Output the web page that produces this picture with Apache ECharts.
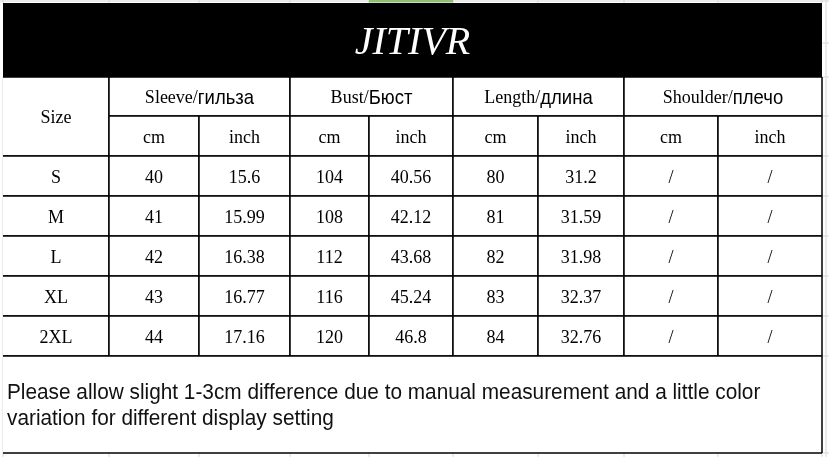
<!DOCTYPE html>
<html>
<head>
<meta charset="utf-8">
<script src="https://cdn.jsdelivr.net/npm/echarts@6/dist/echarts.min.js"></script>
<style>
  html, body { margin: 0; padding: 0; background: #fff; }
  #chart { width: 829px; height: 457px; }
</style>
</head>
<body>
<div id="chart"></div>
<script>
// --- data ---
const title = "JITIVR";
const sizeLabel = "Size";
const sizes = ["S", "M", "L", "XL", "2XL"];
const groupEn = ["Sleeve/", "Bust/", "Length/", "Shoulder/"];
const groupRu = ["гильза", "Бюст", "длина", "плечо"];
const units = ["cm", "inch"];
const sleeveCm = ["40", "41", "42", "43", "44"];
const sleeveInch = ["15.6", "15.99", "16.38", "16.77", "17.16"];
const bustCm = ["104", "108", "112", "116", "120"];
const bustInch = ["40.56", "42.12", "43.68", "45.24", "46.8"];
const lengthCm = ["80", "81", "82", "83", "84"];
const lengthInch = ["31.2", "31.59", "31.98", "32.37", "32.76"];
const shoulderCm = ["/", "/", "/", "/", "/"];
const shoulderInch = ["/", "/", "/", "/", "/"];
const noteLines = [
  "Please allow slight 1-3cm difference due to manual measurement and a little color",
  "variation for different display setting"
];

// --- layout (pixel edges of the sheet) ---
const colX = [3, 109, 199, 290, 369, 453, 538, 624, 718, 822];
const rowY = [3, 77, 116, 156, 196, 236, 276, 316, 356, 453];

const SERIF = "'Liberation Serif', 'Times New Roman', serif";
const SANS = "'Liberation Sans', Arial, sans-serif";

// build cell list
const cells = [];
cells.push({ c0: 0, c1: 9, r0: 0, r1: 1, kind: "title", text: title });
cells.push({ c0: 0, c1: 1, r0: 1, r1: 3, kind: "cell", text: sizeLabel });
groupEn.forEach((g, i) => {
  cells.push({ c0: 1 + 2 * i, c1: 3 + 2 * i, r0: 1, r1: 2, kind: "head", en: g, ru: groupRu[i] });
  units.forEach((u, k) => {
    cells.push({ c0: 1 + 2 * i + k, c1: 2 + 2 * i + k, r0: 2, r1: 3, kind: "cell", text: u });
  });
});
const cols = [sleeveCm, sleeveInch, bustCm, bustInch, lengthCm, lengthInch, shoulderCm, shoulderInch];
sizes.forEach((s, r) => {
  cells.push({ c0: 0, c1: 1, r0: 3 + r, r1: 4 + r, kind: "cell", text: s });
  cols.forEach((arr, c) => {
    cells.push({ c0: 1 + c, c1: 2 + c, r0: 3 + r, r1: 4 + r, kind: "cell", text: arr[r] });
  });
});
cells.push({ c0: 0, c1: 9, r0: 8, r1: 9, kind: "note" });

const cellData = cells.map((c, i) => [colX[c.c0], rowY[c.r0], colX[c.c1], rowY[c.r1], i]);

// faint spreadsheet gridlines around the table
const GRAY = "#d6d6d6";
const decoData = [];
colX.forEach(x => decoData.push([x, 0, x, 3, 0]));
colX.forEach(x => decoData.push([x, 453, x, 457, 0]));
decoData.push([0, 1, 829, 1, 0]);
decoData.push([369, 1, 453, 1, 1]);
[43].concat(rowY.slice(1)).forEach(y => decoData.push([822, y, 829, y, 0]));
decoData.push([826, 0, 826, 457, 0]);
decoData.push([3, 77, 3, 453, 0]);

function line(x1, y1, x2, y2, color, w) {
  return { type: "line", shape: { x1, y1, x2, y2 }, style: { stroke: color, lineWidth: w } };
}

function renderCell(params, api) {
  const p0 = api.coord([api.value(0), api.value(1)]);
  const p1 = api.coord([api.value(2), api.value(3)]);
  const cell = cells[api.value(4)];
  const x0 = p0[0], y0 = p0[1], x1 = p1[0], y1 = p1[1];
  const cx = (x0 + x1) / 2, cy = (y0 + y1) / 2;
  const children = [];
  children.push({
    type: "rect",
    shape: { x: x0, y: y0, width: x1 - x0, height: y1 - y0 },
    style: { fill: cell.kind === "title" ? "#000" : "#fff" }
  });
  if (cell.kind !== "title") {
    children.push(line(x0, y0, x1, y0, "#000", 1.5));
    children.push(line(x0, y1, x1, y1, "#000", 1.5));
    children.push(line(x1, y0, x1, y1, "#000", 1.5));
    if (cell.c0 > 0) children.push(line(x0, y0, x0, y1, "#000", 1.5));
  }
  if (cell.kind === "title") {
    children.push({
      type: "text", x: cx, y: cy + 3.5,
      style: {
        text: cell.text, fontFamily: SERIF, fontStyle: "italic", fontSize: 40,
        fill: "#fff", align: "center", verticalAlign: "middle"
      }
    });
  } else if (cell.kind === "head") {
    children.push({
      type: "text", x: cx, y: cy + 1.5, scaleY: 1.1,
      style: {
        text: "{en|" + cell.en + "}{ru|" + cell.ru + "}",
        align: "center", verticalAlign: "middle",
        rich: {
          en: { fontFamily: SERIF, fontSize: 18, fill: "#000" },
          ru: { fontFamily: SANS, fontSize: 18.5, fill: "#000" }
        }
      }
    });
  } else if (cell.kind === "cell") {
    children.push({
      type: "text", x: cx, y: cy + 1.5, scaleY: 1.1,
      style: {
        text: cell.text, fontFamily: SERIF, fontSize: 18,
        fill: "#000", align: "center", verticalAlign: "middle"
      }
    });
  } else if (cell.kind === "note") {
    noteLines.forEach((t, i) => {
      children.push({
        type: "text", x: x0 + 4, y: cy - 11.5 + i * 26, scaleY: 1.05,
        style: {
          text: t, fontFamily: SANS, fontSize: 20.8,
          fill: "#111", align: "left", verticalAlign: "middle"
        }
      });
    });
  }
  return { type: "group", children };
}

function renderDeco(params, api) {
  const p0 = api.coord([api.value(0), api.value(1)]);
  const p1 = api.coord([api.value(2), api.value(3)]);
  const green = api.value(4) === 1;
  return line(p0[0], p0[1], p1[0], p1[1], green ? "#8fbf72" : GRAY, green ? 3 : 1);
}

const chart = echarts.init(document.getElementById("chart"));
chart.setOption({
  animation: false,
  backgroundColor: "#fff",
  grid: { left: 0, right: 0, top: 0, bottom: 0 },
  xAxis: { type: "value", min: 0, max: 829, show: false },
  yAxis: { type: "value", min: 0, max: 457, inverse: true, show: false },
  series: [
    {
      type: "custom", coordinateSystem: "cartesian2d", silent: true,
      encode: { x: [0, 2], y: [1, 3] },
      renderItem: renderDeco, data: decoData
    },
    {
      type: "custom", coordinateSystem: "cartesian2d", silent: true,
      encode: { x: [0, 2], y: [1, 3] },
      renderItem: renderCell, data: cellData
    }
  ]
});
window.addEventListener("resize", () => chart.resize());
</script>
</body>
</html>
